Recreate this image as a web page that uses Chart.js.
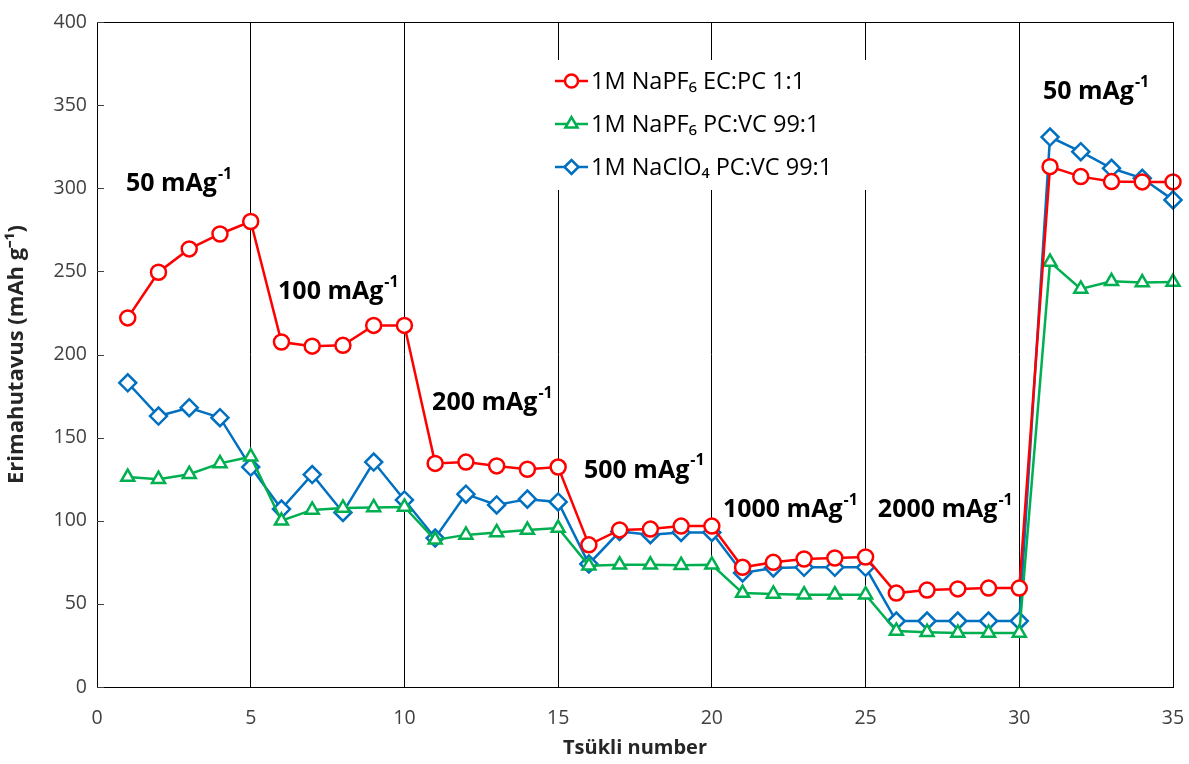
<!DOCTYPE html>
<html>
<head>
<meta charset="utf-8">
<script src="https://cdn.jsdelivr.net/npm/chart.js@4.4.1/dist/chart.umd.min.js"></script>
<style>
  html, body { margin: 0; padding: 0; background: #fff; }
  #wrap { width: 1189px; height: 764px; }
</style>
</head>
<body>
<div id="wrap"><canvas id="c" width="1189" height="764"></canvas></div>
<script>
// Tsükli number 1..35
const cycles = Array.from({ length: 35 }, (_, i) => i + 1);

const naPF6_ECPC = [222, 249.5, 263.5, 272.5, 280, 207.5, 205, 205.5, 217.5, 217.5,
  134.5, 135.3, 133, 131, 132.3, 85.5, 94.5, 95, 96.8, 96.8,
  72, 75, 77, 77.6, 78.2, 56.5, 58.3, 59, 59.5, 59.5,
  313, 307, 304, 303.8, 303.8];

const naPF6_PCVC = [126.3, 125, 128, 134.5, 138.5, 100, 106.5, 107.7, 108, 108.3,
  88.5, 91.5, 93, 94.4, 95.6, 73, 73.5, 73.5, 73.3, 73.5,
  56.5, 56, 55.5, 55.5, 55.5, 33.7, 33, 32.5, 32.5, 32.5,
  255.6, 239.4, 244, 243.3, 243.6];

const naClO4_PCVC = [183, 163, 168, 162, 132.3, 107, 127.8, 105, 135.3, 112.5,
  89.6, 116, 109.5, 113, 111.3, 74, 93.5, 91.6, 93, 93,
  68.6, 71.6, 72, 72, 72, 39.7, 39.7, 39.7, 39.7, 39.7,
  330.8, 322, 312, 306, 293];

const seriesLabels = ['1M NaPF₆ EC:PC 1:1', '1M NaPF₆ PC:VC 99:1', '1M NaClO₄ PC:VC 99:1'];
const seriesColors = ['#FF0000', '#00B050', '#0070C0'];
const seriesMarkers = ['circle', 'triangle', 'rectRot'];

// current-density labels: [text, x value, y value]
const rateLabels = [
  ['50 mAg', 0.94, 302.5],
  ['100 mAg', 5.89, 237.6],
  ['200 mAg', 10.9, 170.8],
  ['500 mAg', 15.84, 130],
  ['1000 mAg', 20.36, 106.5],
  ['2000 mAg', 25.4, 106.5],
  ['50 mAg', 30.77, 357.9]
];

const xTicks = [0, 5, 10, 15, 20, 25, 30, 35];
const yTicks = [0, 50, 100, 150, 200, 250, 300, 350, 400];

const tickColor = '#404040';
const fontFam = '"Open Sans", sans-serif';

function makeSet(i, data) {
  return {
    label: seriesLabels[i],
    data: cycles.map((c, k) => ({ x: c, y: data[k] })),
    borderColor: seriesColors[i],
    backgroundColor: '#fff',
    pointBackgroundColor: '#fff',
    pointBorderColor: seriesColors[i],
    pointStyle: seriesMarkers[i],
    pointRadius: i === 2 ? 8.5 : 7.5,
    pointBorderWidth: 2.5,
    borderWidth: 2.5,
    tension: 0,
    clip: false
  };
}

// frame, inner y ticks, rate labels, legend box
const decor = {
  id: 'decor',
  afterDatasetsDraw(chart) {
    const { ctx, chartArea: a, scales: { x, y } } = chart;
    ctx.save();
    ctx.strokeStyle = '#000';
    ctx.lineWidth = 1;
    ctx.strokeRect(a.left + 0.5, a.top + 0.5, a.right - a.left, a.bottom - a.top);
    ctx.strokeStyle = '#404040';
    yTicks.forEach(v => {
      const py = Math.round(y.getPixelForValue(v)) + 0.5;
      ctx.beginPath(); ctx.moveTo(a.left, py); ctx.lineTo(a.left + 7, py); ctx.stroke();
    });

    // rate labels
    ctx.fillStyle = '#000';
    ctx.textBaseline = 'middle';
    ctx.textAlign = 'left';
    rateLabels.forEach(([t, xv, yv]) => {
      const px = x.getPixelForValue(xv), py = y.getPixelForValue(yv);
      ctx.font = 'bold 25px ' + fontFam;
      ctx.fillText(t, px, py);
      const w = ctx.measureText(t).width;
      ctx.font = 'bold 16px ' + fontFam;
      ctx.fillText('-1', px + w + 1, py - 10);
    });

    // legend
    ctx.fillStyle = '#fff';
    ctx.fillRect(546, 60, 330, 130);
    const rows = [81, 124, 167];
    ctx.font = '23.5px ' + fontFam;
    rows.forEach((ry, i) => {
      ctx.strokeStyle = seriesColors[i];
      ctx.lineWidth = 2.5;
      ctx.beginPath(); ctx.moveTo(555, ry); ctx.lineTo(588, ry); ctx.stroke();
      ctx.fillStyle = '#fff';
      ctx.beginPath();
      if (i === 0) { ctx.arc(571.5, ry, 6.5, 0, Math.PI * 2); ctx.fill(); ctx.stroke(); }
      else Chart.helpers.drawPoint(ctx, { pointStyle: seriesMarkers[i], radius: 7, borderWidth: 2.5 }, 571.5, ry);
      ctx.fillStyle = '#000';
      ctx.fillText(seriesLabels[i], 591, ry + 1);
    });
    ctx.restore();
  }
};

new Chart(document.getElementById('c'), {
  type: 'line',
  data: {
    datasets: [makeSet(0, naPF6_ECPC), makeSet(1, naPF6_PCVC), makeSet(2, naClO4_PCVC)]
  },
  options: {
    responsive: false,
    animation: false,
    layout: { padding: { top: 22, right: 16, left: 0, bottom: 0 } },
    plugins: { legend: { display: false }, tooltip: { enabled: false } },
    scales: {
      x: {
        type: 'linear', min: 0, max: 35,
        afterBuildTicks: s => { s.ticks = xTicks.map(v => ({ value: v })); },
        afterFit: s => { s.height = 77; s.paddingLeft = 0; s.paddingRight = 0; },
        grid: { color: '#000', lineWidth: 1, drawTicks: false },
        border: { display: false },
        ticks: { color: tickColor, padding: 20, font: { family: fontFam, size: 19.5 } },
        title: { display: true, text: 'Tsükli number', color: '#262626', padding: { top: 0 },
          font: { family: fontFam, size: 20, weight: 'bold' } }
      },
      y: {
        min: 0, max: 400,
        afterBuildTicks: s => { s.ticks = yTicks.map(v => ({ value: v })); },
        afterFit: s => { s.width = 97; s.paddingTop = 0; s.paddingBottom = 0; },
        grid: { display: false },
        border: { display: false },
        ticks: { color: tickColor, padding: 2, font: { family: fontFam, size: 19.5 } },
        title: { display: true, text: 'Erimahutavus (mAh g⁻¹)', color: '#262626', padding: { bottom: 0 },
          font: { family: fontFam, size: 22, weight: 'bold' } }
      }
    }
  },
  plugins: [decor]
});
</script>
</body>
</html>
